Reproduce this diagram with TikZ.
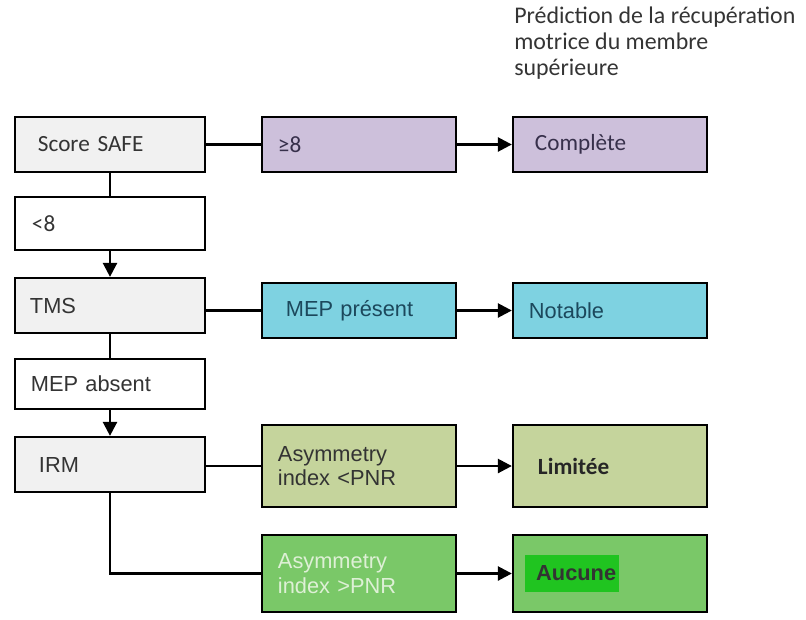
\documentclass[tikz,border=0pt]{standalone}
\usepackage{fontspec}
\setmainfont{Carlito}
\newfontfamily\arialfont{Liberation Sans}
\usepackage{xcolor}
\usepackage{tikz}
\usetikzlibrary{
  arrows.meta,
  positioning
}
\definecolor{safegray}{RGB}{241,241,241}
\definecolor{safepurple}{RGB}{205,192,219}
\definecolor{tmscyan}{RGB}{126,210,225}
\definecolor{irmolive}{RGB}{197,212,156}
\definecolor{irmgreen}{RGB}{122,200,104}
\definecolor{aucgreen}{RGB}{32,196,32}
\definecolor{textgray}{RGB}{52,52,52}
\definecolor{textpurple}{RGB}{55,48,75}
\definecolor{textteal}{RGB}{28,72,92}
\definecolor{textlight}{RGB}{222,240,214}

\begin{document}
\begin{tikzpicture}[
  x=0.025cm, y=-0.025cm,
  box/.style={draw, line width=1.6pt, minimum height=1.375cm, align=left,
              font=\fontsize{16.5}{19}\selectfont, text=textgray},
  lbox/.style={box, minimum width=4.75cm},
  cbox/.style={box, minimum width=4.85cm},
  arial/.style={font=\arialfont\fontsize{15.5}{17.5}\selectfont},
  link/.style={line width=1.8pt},
  arr/.style={link, -{Triangle[length=10pt, width=10pt]}}
]
  \useasboundingbox (0,0) rectangle (806,619);

  % Title
  \node[align=left, anchor=north west, inner sep=0pt, text=textgray,
        font=\fontsize{17}{18.5}\selectfont] (title) at (514,7)
    {Prédiction de la récupération\\motrice du membre\\supérieure};

  % Left column
  \node[lbox, fill=safegray, text width=3.6cm] (safe) at (110,144.5) {Score SAFE};
  \node[lbox, fill=white, text width=3.9cm, minimum height=1.325cm] (lt8) at (110,223.5) {<8};
  \node[lbox, arial, fill=safegray, text width=4.0cm] (tms) at (110,305.5) {TMS};
  \node[lbox, arial, fill=white, text width=3.95cm, minimum height=1.25cm] (mepa) at (110,384) {MEP absent};
  \node[lbox, arial, fill=safegray, text width=3.55cm] (irm) at (110,464.5) {IRM};

  % Middle column
  \node[cbox, fill=safepurple, text=textpurple, text width=4.05cm] (ge8) at (359,144.5) {≥8};
  \node[cbox, arial, fill=tmscyan, text=textteal, text width=3.65cm] (mepp) at (359,310.5) {MEP présent};
  \node[cbox, arial, fill=irmolive, text=black!80, text width=4.05cm, minimum height=2.05cm]
    (asl) at (359,466) {Asymmetry\\index <PNR};
  \node[cbox, arial, fill=irmgreen, text=textlight, text width=4.05cm, minimum height=1.925cm]
    (ash) at (359,573.5) {Asymmetry\\index >PNR};

  % Right column
  \node[cbox, fill=safepurple, text=textpurple, text width=3.75cm] (comp) at (610,144.5) {Complète};
  \node[cbox, arial, fill=tmscyan, text=textteal, text width=4.05cm] (nota) at (610,310.5) {Notable};
  \node[cbox, fill=irmolive, text=black!85, text width=3.6cm, minimum height=2.05cm,
        font=\fontsize{16.5}{19}\selectfont\bfseries] (lim) at (610,466) {Limitée};
  \node[cbox, arial, fill=irmgreen, text=black!80, text width=4.25cm, minimum height=1.925cm]
    (auc) at (610,573.5)
    {{\setlength{\fboxsep}{0pt}\colorbox{aucgreen}{\parbox[c][27pt][c]{67pt}{\hspace{8pt}\textbf{Aucune}}}}};

  % Connectors
  \draw[link] (safe) -- (ge8);
  \draw[arr] (ge8) -- (comp);
  \draw[link] (safe) -- (lt8);
  \draw[arr] (lt8) -- (tms);
  \draw[link] (tms.east |- mepp) -- (mepp);
  \draw[arr] (mepp) -- (nota);
  \draw[link] (tms) -- (mepa);
  \draw[arr] (mepa) -- (irm);
  \draw[link] (irm.east |- asl) -- (asl);
  \draw[arr] (asl) -- (lim);
  \draw[link] (irm) |- (ash);
  \draw[arr] (ash) -- (auc);
\end{tikzpicture}
\end{document}
